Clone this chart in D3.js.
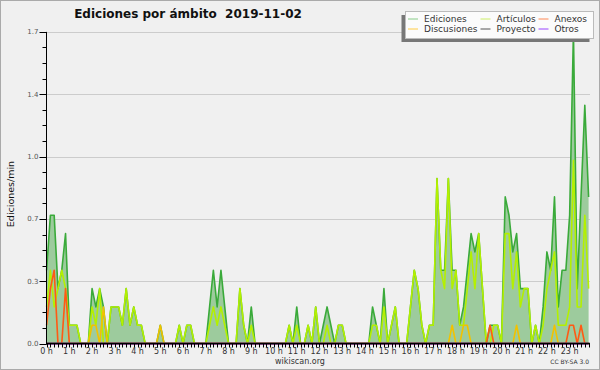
<!DOCTYPE html>
<html>
<head>
<meta charset="utf-8" />
<title>Ediciones por ámbito</title>
<script src="https://cdn.jsdelivr.net/npm/d3@7"></script>
<style>
  body { margin: 0; background: #fff; }
  svg text { font-family: "DejaVu Sans", sans-serif; }
</style>
</head>
<body>
<svg id="chart" width="600" height="370"></svg>
<script>
// edits per minute, one value per 10 minutes (0:00 .. 23:50)
var ediciones = [
  0.4,0.7,0.7,0.3,0.4,0.6,  0.1,0.1,0.1,0,0,0,  0.3,0.2,0.3,0.2,0,0.2,  0.2,0.2,0.1,0.3,0.1,0.2,
  0.1,0.1,0,0,0,0,  0.1,0,0,0,0,0.1,  0,0.1,0.1,0,0,0,  0,0.2,0.4,0.2,0.4,0.2,
  0,0,0,0.3,0.1,0,  0.2,0,0,0,0,0,  0,0,0,0,0.1,0,  0.2,0,0,0.1,0,0.2,
  0,0.1,0.2,0.1,0,0.1,  0.1,0,0,0,0,0,  0,0,0.2,0.1,0,0.3,  0,0.1,0.2,0,0,0,
  0.2,0.4,0.3,0.1,0,0.1,  0.1,0.9,0.4,0.4,0.9,0.4,  0.4,0.1,0.2,0.4,0.6,0.5,  0.6,0.3,0,0.1,0.1,0.1,
  0,0.8,0.7,0.5,0.6,0.3,  0.3,0.3,0,0.1,0,0.2,  0.5,0.4,0.8,0.2,0.4,0.4,  0.7,1.7,0.3,0.8,1.3,0.8
];
var articulos = [
  0.2,0.4,0.2,0.3,0.4,0.3,  0.1,0.1,0.1,0,0,0,  0.2,0.1,0.3,0,0,0.2,  0.2,0.2,0.1,0.3,0.1,0.2,
  0.1,0.1,0,0,0,0,  0,0,0,0,0,0.1,  0,0.1,0.1,0,0,0,  0,0.1,0.2,0.1,0.2,0.1,
  0,0,0,0.3,0.1,0,  0.1,0,0,0,0,0,  0,0,0,0,0.1,0,  0.1,0,0,0.1,0,0.2,
  0,0,0.1,0,0,0.1,  0.1,0,0,0,0,0,  0,0,0.1,0.1,0,0.2,  0,0.1,0.2,0,0,0,
  0.2,0.4,0.3,0.1,0,0.1,  0.1,0.9,0.4,0.3,0.9,0.3,  0.4,0.1,0.1,0.3,0.5,0.3,  0.6,0.3,0,0,0.1,0.1,
  0,0.6,0.6,0.3,0.5,0.2,  0.3,0.3,0,0.1,0,0.1,  0.3,0.4,0.5,0.1,0.1,0.1,  0.2,1.0,0.2,0.2,0.7,0.3
];
var anexos = [
  0.1,0.3,0.4,0,0,0.3,  0,0,0,0,0,0,  0,0,0,0,0,0,  0,0,0,0,0,0,
  0,0,0,0,0,0,  0,0,0,0,0,0,  0,0,0,0,0,0,  0,0,0,0,0,0,
  0,0,0,0,0,0,  0,0,0,0,0,0,  0,0,0,0,0,0,  0,0,0,0,0,0,
  0,0,0,0,0,0,  0,0,0,0,0,0,  0,0,0,0,0,0,  0,0,0,0,0,0,
  0,0,0,0,0,0,  0,0,0,0,0,0,  0,0,0,0,0,0,  0,0,0,0.1,0,0,
  0,0,0,0,0,0,  0,0,0,0,0,0,  0,0,0,0,0,0,  0.1,0.1,0,0.1,0,0
];
var discusiones = [
  0,0,0,0,0,0,  0,0,0,0,0,0,  0.1,0.1,0,0.2,0,0,  0,0,0,0,0,0,
  0,0,0,0,0,0,  0.1,0,0,0,0,0,  0,0,0,0,0,0,  0,0,0,0,0,0,
  0,0,0,0,0,0,  0,0,0,0,0,0,  0,0,0,0,0,0,  0,0,0,0,0,0,
  0,0,0,0,0,0,  0,0,0,0,0,0,  0,0,0,0,0,0,  0,0,0,0,0,0,
  0,0,0,0,0,0,  0,0,0,0,0,0.1,  0,0,0.1,0.1,0,0,  0,0,0,0,0,0,
  0,0,0,0,0.1,0,  0,0,0,0,0,0,  0,0,0.1,0,0,0,  0,0,0,0,0,0
];
var proyecto = new Array(144).fill(0);
var otros = new Array(144).fill(0);

var hourLabels = d3.range(24).map(function (h) { return h + " h"; });
var yTicks = [0, 0.34, 0.68, 1.02, 1.36, 1.7];

var series = [
  { name: "Ediciones",   values: ediciones,   color: "#3aaa3a", legend: "#88cc88" },
  { name: "Artículos",   values: articulos,   color: "#b4f000", legend: "#ccee66" },
  { name: "Anexos",      values: anexos,      color: "#ff5a14", legend: "#ff8855" },
  { name: "Discusiones", values: discusiones, color: "#f2c200", legend: "#ffcc44" },
  { name: "Proyecto",    values: proyecto,    color: "#555555", legend: "#555555" },
  { name: "Otros",       values: otros,       color: "#9933ff", legend: "#9944ff" }
];

var svg = d3.select("#chart");

svg.append("rect").attr("x", 0.5).attr("y", 0.5).attr("width", 599).attr("height", 369)
  .attr("fill", "#f0f0f0").attr("stroke", "#aaaaaa");

var x = d3.scaleLinear().domain([0, 143]).range([46.6, 588.6]);
var y = d3.scaleLinear().domain([0, 1.7]).range([343.6, 31.9]);

// grid
svg.append("g").selectAll("line").data(yTicks.slice(1)).enter().append("line")
  .attr("x1", 47).attr("x2", 590)
  .attr("y1", function (d) { return Math.round(y(d)) + 0.5; })
  .attr("y2", function (d) { return Math.round(y(d)) + 0.5; })
  .attr("stroke", "#cccccc");

// area of the total
svg.append("path").datum(ediciones)
  .attr("fill", "#9dcb9d")
  .attr("d", d3.area().x(function (d, i) { return x(i); }).y0(y(0)).y1(function (d) { return y(d); }));

var line = d3.line().x(function (d, i) { return x(i); }).y(function (d) { return y(d); });
series.forEach(function (s) {
  svg.append("path").datum(s.values)
    .attr("fill", "none").attr("stroke", s.color).attr("stroke-width", 1.6)
    .attr("stroke-linejoin", "round")
    .attr("d", line);
});

// y axis
var yMinor = d3.range(0, 21).map(function (k) { return k * 0.085; });
var yAxis = svg.append("g").attr("transform", "translate(46.5,0)");
yAxis.append("line").attr("y1", y(1.7)).attr("y2", y(0)).attr("stroke", "#000");
yAxis.selectAll(".minor").data(yMinor).enter().append("line")
  .attr("x1", -4).attr("x2", 0)
  .attr("y1", function (d) { return Math.round(y(d)) + 0.5; })
  .attr("y2", function (d) { return Math.round(y(d)) + 0.5; })
  .attr("stroke", "#000");
yAxis.selectAll(".major").data(yTicks).enter().append("line")
  .attr("x1", -7).attr("x2", 0)
  .attr("y1", function (d) { return Math.round(y(d)) + 0.5; })
  .attr("y2", function (d) { return Math.round(y(d)) + 0.5; })
  .attr("stroke", "#000");
yAxis.selectAll("text").data(yTicks).enter().append("text")
  .attr("x", -8).attr("y", function (d) { return y(d) + 2.5; })
  .attr("text-anchor", "end").attr("font-size", 7).attr("fill", "#555")
  .text(d3.format(".1f"));

// x axis
var xAxis = svg.append("g").attr("transform", "translate(0," + 343.5 + ")");
xAxis.append("line").attr("x1", 46).attr("x2", 590).attr("stroke", "#000").attr("stroke-width", 1.5);
xAxis.selectAll(".tick").data(d3.range(144)).enter().append("line")
  .attr("x1", function (i) { return Math.round(x(i)) + 0.5; })
  .attr("x2", function (i) { return Math.round(x(i)) + 0.5; })
  .attr("y1", 0).attr("y2", 4).attr("stroke", "#000");
xAxis.selectAll("text").data(hourLabels).enter().append("text")
  .attr("x", function (d, h) { return x(h * 6); }).attr("y", 10.5)
  .attr("text-anchor", "middle").attr("font-size", 8).attr("fill", "#333")
  .text(function (d) { return d; });

// titles
svg.append("text").attr("x", 188).attr("y", 18).attr("text-anchor", "middle")
  .attr("font-size", 12).attr("font-weight", "bold").attr("fill", "#111")
  .attr("xml:space", "preserve").text("Ediciones por ámbito  2019-11-02");
svg.append("text").attr("transform", "translate(14,194) rotate(-90)")
  .attr("text-anchor", "middle").attr("font-size", 9.5)
  .attr("font-family", "DejaVu Sans Mono").attr("fill", "#111").text("Ediciones/min");
svg.append("text").attr("x", 300).attr("y", 364).attr("text-anchor", "middle")
  .attr("font-size", 8).attr("fill", "#333").text("wikiscan.org");
svg.append("text").attr("x", 589).attr("y", 364).attr("text-anchor", "end")
  .attr("font-size", 6).attr("fill", "#333").text("CC BY-SA 3.0");

// legend
var lg = svg.append("g");
lg.append("rect").attr("x", 401.5).attr("y", 15).attr("width", 188).attr("height", 27).attr("fill", "#777");
lg.append("rect").attr("x", 405.5).attr("y", 11.5).attr("width", 188).attr("height", 27)
  .attr("fill", "#fbfbfb").attr("stroke", "#bbbbbb");
var cols = [408, 480.5, 538.5];
series.forEach(function (s, n) {
  var cx = cols[n % 3], cy = n < 3 ? 19 : 29;
  lg.append("line").attr("x1", cx).attr("x2", cx + 10).attr("y1", cy).attr("y2", cy)
    .attr("stroke", s.legend);
  lg.append("text").attr("x", cx + 16).attr("y", cy + 3).attr("font-size", 9)
    .attr("font-family", "Liberation Sans").attr("fill", "#333").text(s.name);
});
</script>
</body>
</html>
